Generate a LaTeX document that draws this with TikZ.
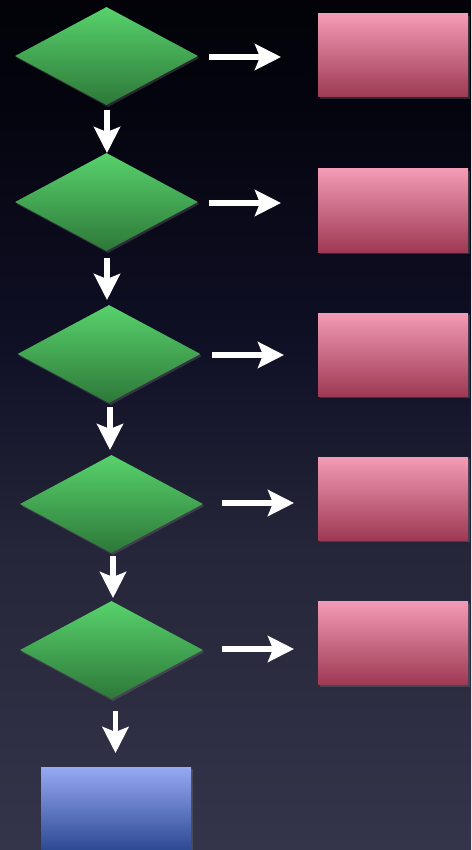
\documentclass[tikz,border=0pt]{standalone}
\usetikzlibrary{shapes.geometric,arrows.meta,shadows}
\definecolor{gtop}{HTML}{58D26C}
\definecolor{gbot}{HTML}{2D7838}
\definecolor{ptop}{HTML}{F39BB6}
\definecolor{pbot}{HTML}{9E3953}
\definecolor{btop}{HTML}{96AAF2}
\definecolor{bbot}{HTML}{2E4994}
\pgfdeclareverticalshading{bgshade}{100bp}{
  color(0bp)=(rgb,255:red,52;green,52;blue,74);
  color(25bp)=(rgb,255:red,52;green,52;blue,74);
  color(42.6bp)=(rgb,255:red,38;green,38;blue,58);
  color(54.4bp)=(rgb,255:red,16;green,16;blue,38);
  color(69.1bp)=(rgb,255:red,4;green,4;blue,14);
  color(75bp)=(rgb,255:red,2;green,2;blue,8);
  color(100bp)=(rgb,255:red,2;green,2;blue,8)}
\tikzset{
  shd/.style={drop shadow={opacity=0.3, shadow xshift=1.5pt, shadow yshift=-2pt}},
  dec/.style={diamond, inner sep=0pt, minimum width=183pt, minimum height=98pt,
    top color=gtop, bottom color=gbot, draw=none, shd},
  pbox/.style={rectangle, inner sep=0pt, minimum width=150pt, minimum height=83pt,
    top color=ptop, bottom color=pbot, draw=none, shd},
  bbox/.style={rectangle, inner sep=0pt, minimum width=150pt, minimum height=83pt,
    top color=btop, bottom color=bbot, draw=none, shd},
  wa/.style={white, line width=5.5pt, -{Stealth[length=26pt,width=26pt,inset=5pt]}}
}
\begin{document}
\begin{tikzpicture}[x=1pt,y=-1pt]
\useasboundingbox (0,0) rectangle (471,850);
\shade[shading=bgshade] (0,0) rectangle (471,850);
% diamonds
\node[dec] (d1) at (106.5,56) {};
\node[dec] (d2) at (106.5,202) {};
\node[dec] (d3) at (109,354) {};
\node[dec] (d4) at (111.5,504) {};
\node[dec] (d5) at (111.5,650) {};
% pink boxes
\node[pbox] (r1) at (393,55.5) {};
\node[pbox] (r2) at (393,210.5) {};
\node[pbox] (r3) at (393,354.5) {};
\node[pbox] (r4) at (393,498.5) {};
\node[pbox] (r5) at (393,643) {};
% blue box
\node[bbox] (b) at (116,808.5) {};
% horizontal arrows
\coordinate (h1s) at (209,57); \coordinate (h1e) at (281,57);
\coordinate (h2s) at (209,203); \coordinate (h2e) at (281,203);
\coordinate (h3s) at (212,355); \coordinate (h3e) at (284,355);
\coordinate (h4s) at (222,503); \coordinate (h4e) at (294,503);
\coordinate (h5s) at (222,649); \coordinate (h5e) at (294,649);
\draw[wa] (h1s) -- (h1e);
\draw[wa] (h2s) -- (h2e);
\draw[wa] (h3s) -- (h3e);
\draw[wa] (h4s) -- (h4e);
\draw[wa] (h5s) -- (h5e);
% vertical arrows
\coordinate (v1s) at (107,110); \coordinate (v1e) at (107,153);
\coordinate (v2s) at (107,258); \coordinate (v2e) at (107,300);
\coordinate (v3s) at (110,407); \coordinate (v3e) at (110,450);
\coordinate (v4s) at (113,556); \coordinate (v4e) at (113,598);
\coordinate (v5s) at (115.5,711); \coordinate (v5e) at (115.5,753);
\draw[wa] (v1s) -- (v1e);
\draw[wa] (v2s) -- (v2e);
\draw[wa] (v3s) -- (v3e);
\draw[wa] (v4s) -- (v4e);
\draw[wa] (v5s) -- (v5e);
\end{tikzpicture}
\end{document}
